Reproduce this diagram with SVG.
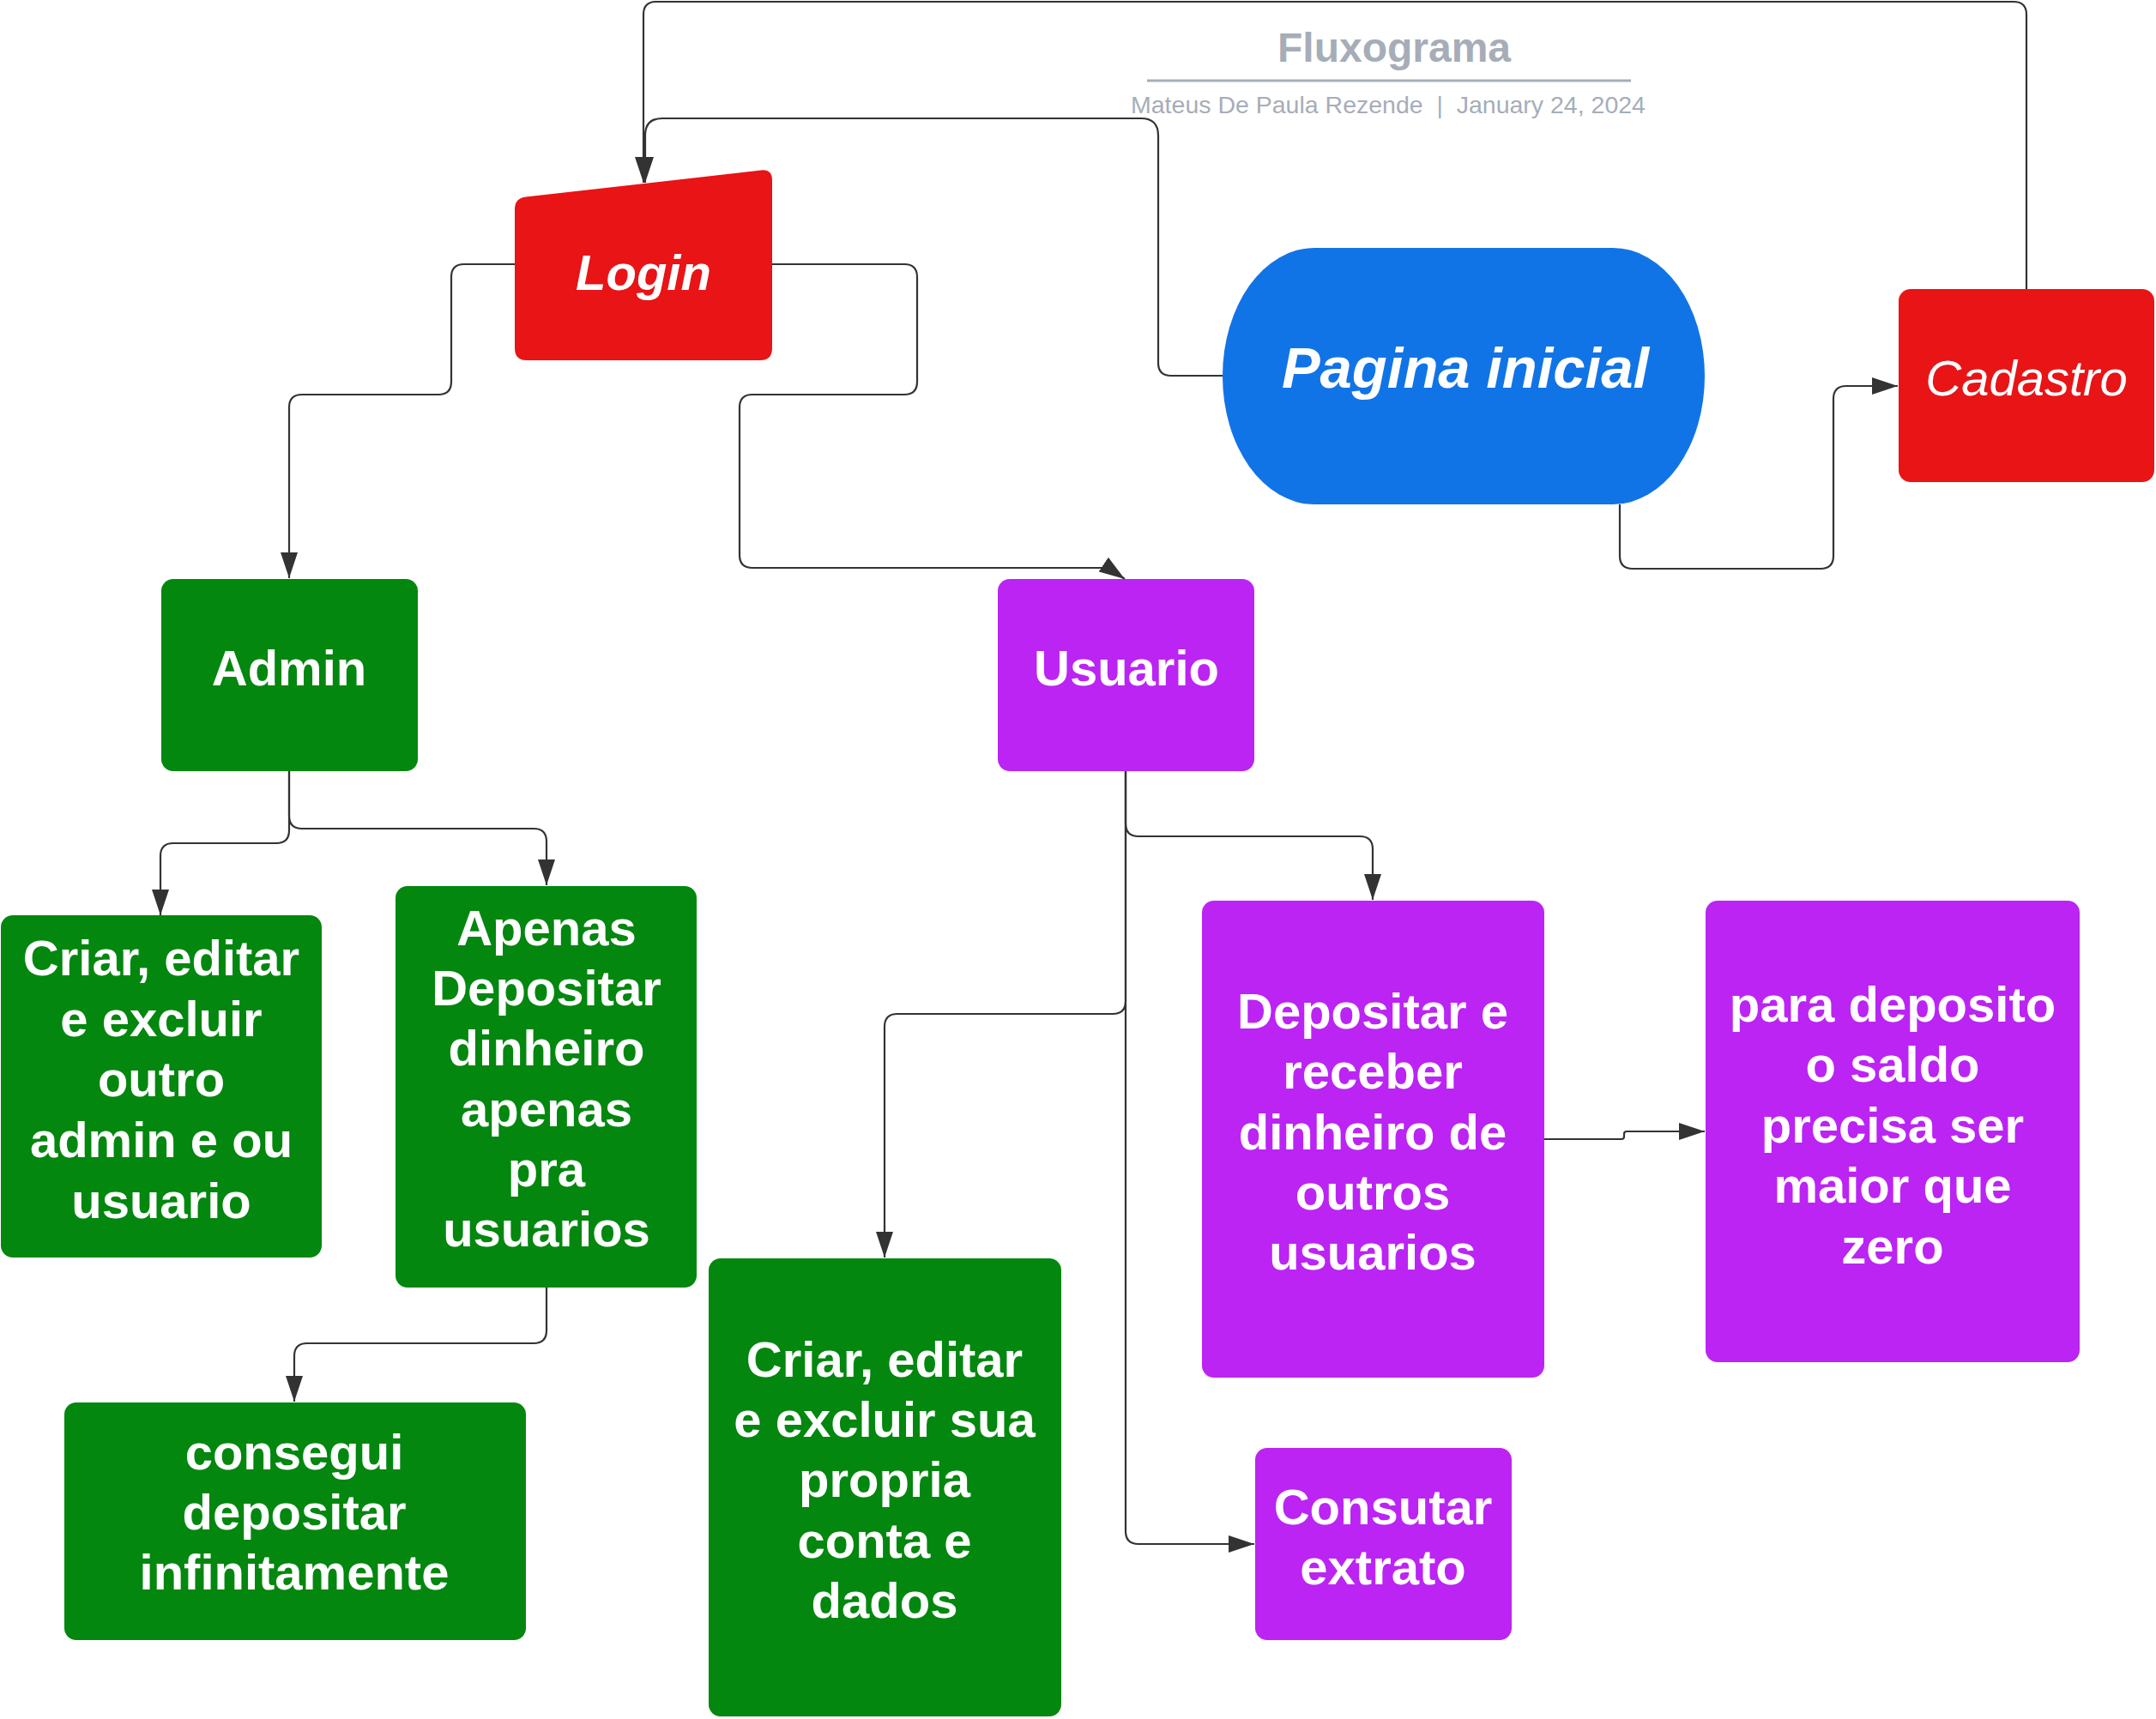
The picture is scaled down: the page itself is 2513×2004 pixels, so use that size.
<svg xmlns="http://www.w3.org/2000/svg" width="2513" height="2004" viewBox="0 0 2513 2004">
<style>
.t{font-family:"Liberation Sans",Arial,sans-serif;font-weight:bold;font-size:58px;fill:#ffffff;text-anchor:middle}
.c{fill:none;stroke:#333333;stroke-width:2.2}
.red{fill:#e81416}.grn{fill:#03870f}.pur{fill:#bb24f3}.blu{fill:#1174e6}
</style>
<defs>
<marker id="ah" markerUnits="userSpaceOnUse" markerWidth="30" markerHeight="20" refX="30" refY="10" orient="auto" viewBox="0 0 30 20">
<path d="M0,0 L30,10 L0,20 z" fill="#333333"/>
</marker>
</defs>
<rect width="2513" height="2004" fill="#ffffff"/>
<g id="title">
<text x="1625" y="72" style="font-family:'Liberation Sans',Arial,sans-serif;font-weight:bold;font-size:48px;fill:#a6adb8;text-anchor:middle">Fluxograma</text>
<line x1="1337" y1="94" x2="1901" y2="94" stroke="#a6adb8" stroke-width="3"/>
<text x="1618" y="132" style="font-family:'Liberation Sans',Arial,sans-serif;font-size:28.5px;fill:#a6adb8;text-anchor:middle" xml:space="preserve">Mateus De Paula Rezende  |  January 24, 2024</text>
</g>
<g id="connectors">
<path class="c" d="M2362 337 L2362 17 Q2362 2 2347 2 L765 2 Q750 2 750 17 L750 213" marker-end="url(#ah)"/>
<path class="c" d="M1425 438 L1365 438 Q1350 438 1350 423 L1350 158 Q1350 138 1330 138 L772 138 Q752 138 752 158 L752 213" marker-end="url(#ah)"/>
<path class="c" d="M600 308 L541 308 Q526 308 526 323 L526 445 Q526 460 511 460 L352 460 Q337 460 337 475 L337 674" marker-end="url(#ah)"/>
<path class="c" d="M900 308 L1054 308 Q1069 308 1069 323 L1069 445 Q1069 460 1054 460 L877 460 Q862 460 862 475 L862 647 Q862 662 877 662 L1292 662 L1311 675" marker-end="url(#ah)"/>
<path class="c" d="M1888 588 L1888 648 Q1888 663 1903 663 L2122 663 Q2137 663 2137 648 L2137 465 Q2137 450 2152 450 L2212 450" marker-end="url(#ah)"/>
<path class="c" d="M337 899 L337 968 Q337 983 322 983 L202 983 Q187 983 187 998 L187 1067" marker-end="url(#ah)"/>
<path class="c" d="M337 899 L337 951 Q337 966 352 966 L622 966 Q637 966 637 981 L637 1032" marker-end="url(#ah)"/>
<path class="c" d="M637 1501 L637 1551 Q637 1566 622 1566 L358 1566 Q343 1566 343 1581 L343 1634" marker-end="url(#ah)"/>
<path class="c" d="M1312 899 L1312 960 Q1312 975 1327 975 L1585 975 Q1600 975 1600 990 L1600 1049" marker-end="url(#ah)"/>
<path class="c" d="M1312 899 L1312 1167 Q1312 1182 1297 1182 L1046 1182 Q1031 1182 1031 1197 L1031 1466" marker-end="url(#ah)"/>
<path class="c" d="M1312 899 L1312 1785 Q1312 1800 1327 1800 L1462 1800" marker-end="url(#ah)"/>
<path class="c" d="M1800 1328 L1890 1328 Q1893 1328 1893 1325 L1893 1322 Q1893 1319 1896 1319 L1987 1319" marker-end="url(#ah)"/>
</g>
<g id="login">
<path class="red" d="M600 244 Q600 231 613 229.6 L887 198.4 Q900 197 900 210 L900 406 Q900 420 886 420 L614 420 Q600 420 600 406 Z"/>
<text class="t" x="750" y="338" font-style="italic">Login</text>
</g>
<g id="pagina-inicial">
<rect class="blu" x="1425" y="289" width="562" height="299" rx="107" ry="149.5"/>
<text class="t" x="1708" y="452" font-style="italic" style="font-size:67px">Pagina inicial</text>
</g>
<g id="cadastro">
<rect class="red" x="2213" y="337" width="298" height="225" rx="14"/>
<text class="t" x="2362" y="461" font-style="italic" style="font-weight:normal">Cadastro</text>
</g>
<g id="admin">
<rect class="grn" x="188" y="675" width="299" height="224" rx="14"/>
<text class="t" x="337" y="799">Admin</text>
</g>
<g id="usuario">
<rect class="pur" x="1163" y="675" width="299" height="224" rx="14"/>
<text class="t" x="1313" y="799">Usuario</text>
</g>
<g id="criar-admin">
<rect class="grn" x="1" y="1067" width="374" height="399" rx="14"/>
<text class="t"><tspan x="188" y="1137">Criar, editar</tspan><tspan x="188" y="1207.7">e excluir</tspan><tspan x="188" y="1278.4">outro</tspan><tspan x="188" y="1349">admin e ou</tspan><tspan x="188" y="1420">usuario</tspan></text>
</g>
<g id="apenas-depositar">
<rect class="grn" x="461" y="1033" width="351" height="468" rx="14"/>
<text class="t"><tspan x="637" y="1102">Apenas</tspan><tspan x="637" y="1172">Depositar</tspan><tspan x="637" y="1242">dinheiro</tspan><tspan x="637" y="1312.5">apenas</tspan><tspan x="637" y="1383">pra</tspan><tspan x="637" y="1453">usuarios</tspan></text>
</g>
<g id="consegui">
<rect class="grn" x="75" y="1635" width="538" height="277" rx="14"/>
<text class="t"><tspan x="343" y="1713">consegui</tspan><tspan x="343" y="1783">depositar</tspan><tspan x="343" y="1853">infinitamente</tspan></text>
</g>
<g id="criar-usuario">
<rect class="grn" x="826" y="1467" width="411" height="534" rx="14"/>
<text class="t"><tspan x="1031" y="1604.5">Criar, editar</tspan><tspan x="1031" y="1675">e excluir sua</tspan><tspan x="1031" y="1745">propria</tspan><tspan x="1031" y="1816">conta e</tspan><tspan x="1031" y="1886">dados</tspan></text>
</g>
<g id="depositar-receber">
<rect class="pur" x="1401" y="1050" width="399" height="556" rx="14"/>
<text class="t"><tspan x="1600" y="1198.5">Depositar e</tspan><tspan x="1600" y="1269">receber</tspan><tspan x="1600" y="1339.5">dinheiro de</tspan><tspan x="1600" y="1410">outros</tspan><tspan x="1600" y="1480">usuarios</tspan></text>
</g>
<g id="consutar-extrato">
<rect class="pur" x="1463" y="1688" width="299" height="224" rx="14"/>
<text class="t"><tspan x="1612" y="1777">Consutar</tspan><tspan x="1612" y="1847">extrato</tspan></text>
</g>
<g id="saldo">
<rect class="pur" x="1988" y="1050" width="436" height="538" rx="14"/>
<text class="t"><tspan x="2206" y="1191">para deposito</tspan><tspan x="2206" y="1261">o saldo</tspan><tspan x="2206" y="1332">precisa ser</tspan><tspan x="2206" y="1402">maior que</tspan><tspan x="2206" y="1473">zero</tspan></text>
</g>
</svg>
